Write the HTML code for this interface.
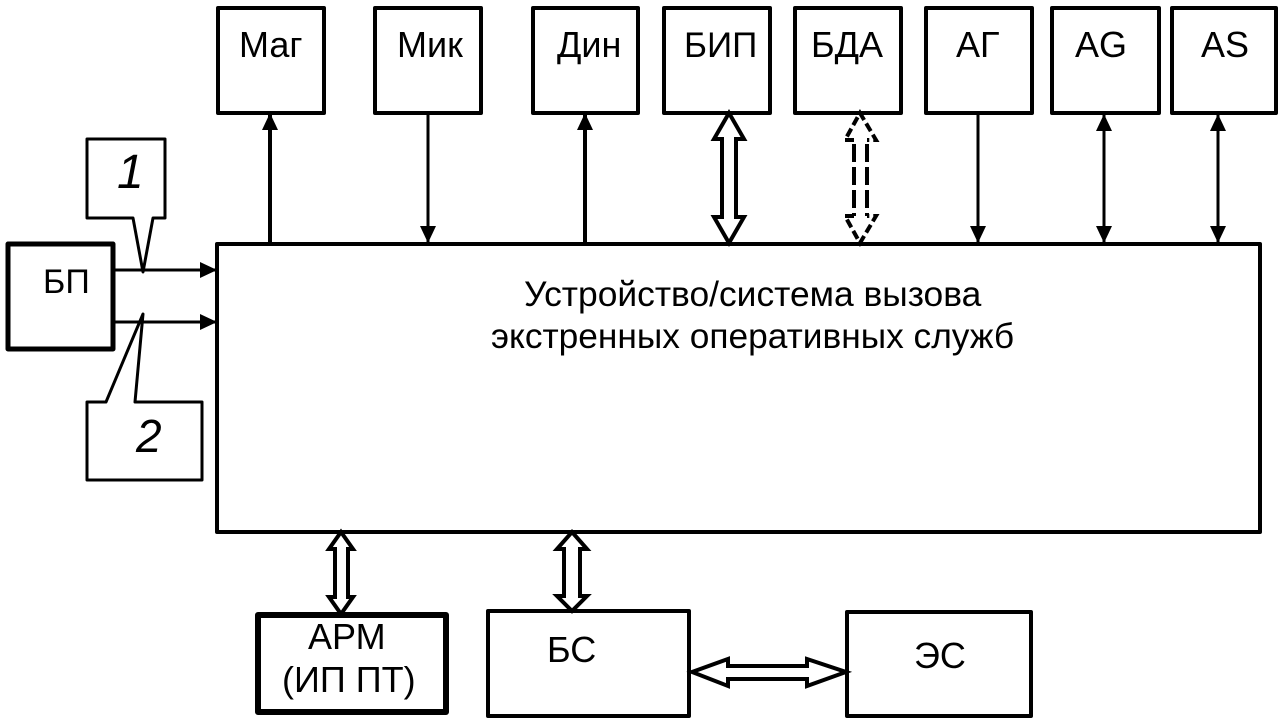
<!DOCTYPE html>
<html><head><meta charset="utf-8"><style>
html,body{margin:0;padding:0;background:#fff}
svg{display:block}
text{font-family:"Liberation Sans",sans-serif;font-size:36px;fill:#000}
</style></head><body>
<svg width="1279" height="723" viewBox="0 0 1279 723" xmlns="http://www.w3.org/2000/svg">
<defs>
<marker id="a" markerUnits="userSpaceOnUse" markerWidth="18" markerHeight="18" refX="17" refY="9" orient="auto-start-reverse"><path d="M0 1L17 9L0 17Z" fill="#000"/></marker>
</defs>
<g fill="#fff" stroke="#000" stroke-width="4" stroke-linejoin="round">
<rect x="218" y="8" width="106" height="105"/>
<rect x="375" y="8" width="106" height="105"/>
<rect x="533" y="8" width="105" height="105"/>
<rect x="664" y="8" width="106" height="105"/>
<rect x="795" y="8" width="106" height="105"/>
<rect x="926" y="8" width="106" height="105"/>
<rect x="1052" y="8" width="107" height="105"/>
<rect x="1172" y="8" width="104" height="105"/>
<rect x="217" y="244" width="1043" height="288"/>
<rect x="8" y="244" width="105" height="105" stroke-width="5"/>
<path d="M87 139H165V218H153L143 272L133 218H87Z" stroke-width="3"/>
<path d="M87 402H106L143 314L135 402H202V480H87Z" stroke-width="3"/>
<rect x="258" y="615" width="188" height="97" stroke-width="6"/>
<rect x="488" y="611" width="201" height="105"/>
<rect x="847" y="612" width="184" height="104"/>
</g>
<g stroke="#000" fill="none">
<path d="M270 243V113" stroke-width="4" marker-end="url(#a)"/>
<path d="M585 243V113" stroke-width="4" marker-end="url(#a)"/>
<path d="M428 113V243" stroke-width="3" marker-end="url(#a)"/>
<path d="M978 113V243" stroke-width="3" marker-end="url(#a)"/>
<path d="M1104 114V243" stroke-width="3" marker-start="url(#a)" marker-end="url(#a)"/>
<path d="M1218 114V243" stroke-width="3" marker-start="url(#a)" marker-end="url(#a)"/>
<path d="M113 270H217" stroke-width="3" marker-end="url(#a)"/>
<path d="M113 322H217" stroke-width="3" marker-end="url(#a)"/>
</g>
<g fill="#fff" stroke="#000" stroke-linejoin="miter">
<path d="M729 113L744 139H736V217H744L729 243L714 217H722V139H714Z" stroke-width="4"/>
<path d="M854 140H845L860 113L876 140H867" stroke-width="4" stroke-dasharray="9 4" fill="none"/>
<path d="M854 216H845L860 243L876 216H867" stroke-width="4" stroke-dasharray="9 4" fill="none"/>
<path d="M854 144V216M867 144V216" stroke-width="4" stroke-dasharray="18 5" fill="none"/>
<path d="M341 532L353 549H348V597H353L341 614L329 597H335V549H329Z" stroke-width="4"/>
<path d="M572 532L587 549H580V596H587L572 611L557 596H564V549H557Z" stroke-width="4"/>
<path d="M692 672L728 659V666H807V659L846 672L807 686V679H728V686Z" stroke-width="4"/>
</g>
<text x="239" y="57">Маг</text>
<text x="397" y="57">Мик</text>
<text x="557" y="57">Дин</text>
<text x="684" y="57" style="font-size:35px">БИП</text>
<text x="811" y="57">БДА</text>
<text x="956" y="57">АГ</text>
<text x="1075" y="57">AG</text>
<text x="1201" y="57">AS</text>
<text x="43" y="293" style="font-size:34px">БП</text>
<text x="524" y="306" style="font-size:35.4px">Устройство/система вызова</text>
<text x="491" y="348" style="font-size:35.3px">экстренных оперативных служб</text>
<text x="308" y="649">АРМ</text>
<text x="282" y="692">(ИП ПТ)</text>
<text x="547" y="662">БС</text>
<text x="914" y="668">ЭС</text>
<text x="117" y="188" style="font-style:italic;font-size:48px">1</text>
<text x="136" y="452" style="font-style:italic;font-size:46px">2</text>
</svg>
</body></html>
